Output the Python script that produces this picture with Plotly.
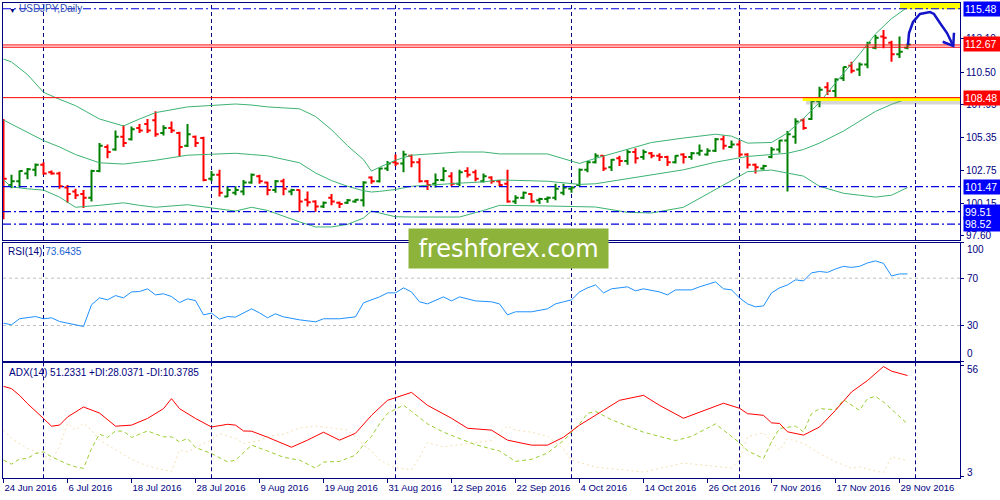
import pandas as pd
import plotly.graph_objects as go

# ---------------- data ----------------
dates = pd.bdate_range("2016-06-24", "2016-11-30")
bar = list(range(len(dates)))

opens = [106.2, 101.6, 101.9, 102.5, 102.8, 103.2, 102.6, 102.5, 101.4, 101.1,
         100.9, 100.6, 102.7, 104.6, 104.4, 105.4, 105.2, 106.1, 106.4, 106.7,
         105.7, 106.1, 105.7, 104.7, 105.4, 105.3, 102.1, 102.4, 100.7, 101.0,
         101.1, 101.8, 102.3, 101.8, 101.2, 101.9, 101.1, 101.2, 100.45, 100.3,
         99.9, 100.6, 100.2, 100.2, 100.3, 100.4, 102.2, 101.9, 102.9, 103.4,
         103.3, 103.9, 103.4, 101.9, 101.7, 102.0, 102.3, 101.7, 102.7, 102.6,
         101.9, 102.2, 101.9, 101.7, 100.3, 100.6, 100.9, 100.4, 100.5, 100.6,
         101.0, 101.3, 101.6, 102.8, 103.4, 103.9, 103.0, 103.7, 103.5, 104.2,
         103.8, 104.1, 103.9, 103.8, 103.4, 104.0, 103.8, 104.1, 104.0, 104.3,
         105.2, 104.6, 104.8, 104.0, 103.2, 102.9, 103.8, 104.4, 105.1, 105.4,
         106.7, 106.8, 108.2, 109.3, 109.0, 110.0, 111.0, 110.7, 111.1, 112.4,
         113.3, 112.8, 111.9, 112.4]
highs = [106.8, 102.4, 102.75, 102.95, 103.3, 103.4, 102.75, 102.65, 101.6, 101.3,
         101.2, 102.8, 104.9, 104.8, 105.9, 106.3, 106.2, 106.4, 106.8, 107.4,
         106.3, 106.6, 105.8, 106.4, 105.5, 105.4, 102.7, 102.8, 101.5, 101.5,
         102.0, 102.5, 102.4, 101.85, 102.0, 102.1, 101.3, 101.25, 101.1, 100.4,
         100.3, 100.9, 100.3, 100.5, 100.5, 101.9, 102.3, 102.95, 103.5, 104.0,
         104.3, 104.0, 103.7, 102.0, 102.5, 103.0, 102.6, 102.8, 103.0, 102.8,
         102.5, 102.3, 102.0, 102.8, 100.8, 101.1, 100.95, 100.6, 100.7, 101.7,
         101.7, 101.5, 102.9, 103.5, 104.1, 103.95, 103.65, 103.9, 104.4, 104.5,
         104.4, 104.2, 104.1, 103.9, 103.95, 104.1, 104.2, 104.8, 104.5, 105.3,
         105.5, 105.1, 105.1, 104.1, 103.3, 103.2, 104.6, 105.15, 105.85, 106.85,
         106.85, 108.37, 109.34, 109.69, 110.0, 110.92, 111.31, 111.24, 112.89, 113.41,
         113.81, 112.97, 113.3, 112.75]
lows = [98.9, 101.35, 101.4, 102.05, 102.3, 102.4, 102.4, 101.3, 100.2, 100.5,
        99.8, 100.3, 102.6, 103.7, 104.3, 104.6, 105.1, 105.7, 105.7, 105.4,
        105.5, 105.7, 103.8, 104.6, 104.6, 101.9, 101.9, 100.7, 100.65, 100.8,
        100.8, 101.7, 101.7, 100.8, 101.0, 100.8, 100.8, 99.5, 99.9, 99.5,
        99.8, 100.0, 99.8, 100.1, 100.2, 99.9, 101.7, 101.8, 102.7, 103.1,
        102.6, 103.0, 101.8, 101.2, 101.4, 101.9, 101.5, 101.5, 102.2, 101.9,
        101.8, 101.7, 101.5, 100.2, 100.1, 100.5, 100.2, 100.1, 100.2, 100.4,
        100.8, 101.0, 101.5, 102.6, 103.3, 102.7, 102.7, 103.1, 103.2, 103.3,
        103.6, 103.7, 103.5, 103.1, 103.3, 103.3, 103.6, 103.9, 103.9, 104.2,
        104.4, 104.5, 103.8, 102.9, 102.5, 102.8, 103.7, 104.15, 101.1, 104.85,
        105.95, 106.72, 107.72, 108.69, 108.43, 109.79, 110.4, 110.19, 110.79, 112.29,
        112.37, 111.31, 111.6, 112.3]
closes = [102.1, 101.9, 102.7, 102.85, 103.2, 102.5, 102.5, 101.5, 100.9, 100.8,
          100.6, 102.7, 104.7, 104.2, 105.4, 104.9, 106.0, 105.9, 105.9, 105.6,
          106.1, 105.9, 104.6, 105.6, 104.9, 102.0, 102.4, 101.0, 101.2, 101.2,
          101.8, 102.4, 101.9, 101.2, 101.9, 101.3, 101.2, 100.3, 100.25, 99.9,
          100.2, 100.3, 100.1, 100.4, 100.45, 101.8, 101.9, 102.9, 103.3, 103.3,
          104.0, 103.4, 101.9, 101.6, 102.0, 102.7, 101.7, 102.6, 102.4, 102.1,
          102.3, 101.9, 101.6, 100.3, 100.6, 101.0, 100.3, 100.5, 100.6, 101.3,
          101.4, 101.4, 102.8, 103.4, 103.9, 102.9, 103.6, 103.5, 104.2, 103.7,
          104.2, 103.9, 103.8, 103.4, 103.9, 103.8, 104.1, 104.3, 104.3, 105.2,
          104.7, 104.8, 104.0, 103.2, 103.0, 103.1, 104.4, 105.1, 105.6, 106.6,
          106.1, 108.2, 109.1, 109.0, 109.9, 110.9, 110.6, 111.1, 112.8, 113.2,
          113.2, 111.9, 112.1, 112.67]

# Bollinger bands (at these bars)
bb_idx = [0, 1, 3, 5, 7, 9, 12, 15, 17, 19, 23, 29, 31, 33, 37, 39, 41, 43, 45, 46,
          47, 49, 51, 54, 57, 60, 62, 68, 72, 74, 78, 81, 85, 89, 91, 93, 96, 98, 100, 102,
          105, 107, 109, 111, 113]
bb_upper = [111.52, 111.29, 110.3, 108.9, 108.35, 107.85, 106.8, 106.25, 106.8, 107.3,
            107.75, 107.98, 107.9, 107.75, 107.6, 107.0, 105.95, 104.7, 103.6, 102.7,
            103.0, 103.55, 103.95, 104.05, 104.2, 104.2, 104.05, 104.05, 103.3, 103.7,
            104.4, 104.95, 105.3, 105.6, 105.45, 104.9, 104.95, 105.7, 106.85, 108.1,
            110.4, 111.9, 113.5, 114.7, 115.6]
bb_mid = [106.72, 106.4, 105.7, 105.1, 104.6, 104.0, 103.35, 103.25, 103.4, 103.55,
          103.95, 104.1, 104.0, 103.9, 103.35, 102.55, 101.95, 101.5, 101.15, 101.05,
          101.1, 101.25, 101.5, 101.65, 101.75, 101.85, 102.0, 101.9, 101.65, 101.7,
          102.1, 102.35, 102.8, 103.4, 103.65, 103.85, 104.0, 104.1, 104.4, 104.9,
          105.85, 106.6, 107.4, 107.95, 108.4]
bb_lower = [102.0, 101.45, 101.3, 101.2, 100.65, 99.85, 100.0, 100.2, 100.0, 99.85,
            100.05, 99.55, 99.85, 99.6, 98.7, 98.3, 98.3, 98.5, 99.0, 99.55,
            99.4, 99.1, 99.08, 99.08, 99.08, 99.6, 100.0, 99.95, 99.9, 99.87,
            99.45, 99.4, 99.85, 101.25, 102.0, 102.65, 102.78, 102.55, 102.3, 101.5,
            100.95, 100.8, 100.65, 100.8, 101.4]

rsi_idx = [0, 1, 2, 4, 5, 6, 7, 9, 10,
           11, 12, 13, 14, 15, 16, 17, 18, 19, 20, 21, 22, 23, 24, 25, 26, 27, 28, 29,
           31, 32, 33, 34, 35,
           37, 39, 40, 42, 44, 45,
           47, 48, 49, 50, 51, 52, 53,
           55, 56, 57, 59, 61, 62, 63, 64, 66,
           68, 69, 70, 71, 72, 73, 74, 75, 76,
           78, 79, 80, 82, 83, 84, 86, 87, 89, 90, 91,
           92, 93, 94, 95, 96, 97, 98, 99, 100, 101, 102, 103, 104, 105, 106, 107, 108,
           109, 110, 111, 112, 113]
rsi_val = [32.0, 30.6, 35.7, 37.6, 35.7, 36.5, 33.4, 30.6, 29.2,
           47.5, 53.4, 51.7, 55.3, 53.4, 58.4, 58.7, 61.0, 55.9, 56.8, 54.5, 49.4, 52.5,
           51.1, 39.0, 40.5, 35.4, 37.6, 37.1,
           44.1, 40.7, 36.5, 39.9, 37.3,
           34.8, 33.1, 35.7, 35.7, 37.3, 49.2,
           54.2, 57.6, 57.6, 61.8, 58.4, 50.0, 48.3,
           54.2, 50.8, 54.2, 50.8, 50.0, 48.3, 39.0, 41.6, 41.6,
           44.1, 48.3, 50.0, 51.7, 58.4, 61.8, 64.3, 57.6, 61.0,
           62.7, 59.3, 61.0, 58.4, 55.9, 60.1, 60.1, 62.7, 66.9, 61.0, 60.1,
           53.4, 48.3, 45.8, 46.6, 57.6, 61.8, 64.3, 68.6, 67.7, 74.5, 75.7, 74.9, 77.8,
           80.0, 79.1, 80.0, 82.9, 84.6, 82.5, 71.9, 73.6, 73.6]

adx_idx = [0, 1, 2, 3, 5, 6, 7, 8, 10, 12, 14, 16, 18, 20, 21, 22, 24, 26, 28, 29,
           30, 31, 33, 36, 38, 40, 42, 44, 46, 48, 51, 53, 56, 58, 61, 63, 66, 68, 70, 72,
           75, 77, 80, 82, 85, 87, 90, 92, 93, 95, 96, 97, 98, 100, 102, 104, 106, 108, 110,
           111, 113]
adx_val = [46.0, 44.9, 41.7, 37.7, 30.6, 26.9, 27.4, 31.3, 36.1, 33.2, 26.9, 27.4, 30.6,
           35.3, 40.1, 35.3, 30.6, 26.5, 27.8, 27.4, 24.6, 24.5, 21.6, 16.8, 20.2, 24.0,
           20.2, 23.5, 32.1, 39.3, 43.1, 36.9, 30.7, 25.9, 25.0, 20.2, 17.8, 17.8, 21.6,
           27.4, 34.5, 39.3, 41.7, 36.9, 30.7, 33.6, 37.9, 35.5, 32.9, 32.1, 28.5, 28.2,
           24.2, 22.6, 26.5, 34.5, 43.3, 48.8, 55.5, 53.3, 51.2]
pdi_idx = [0, 1, 2, 3, 4, 5, 6, 7, 8, 9, 10, 11, 12, 13, 14, 15, 16, 18, 20, 21, 22, 23,
           24, 26, 28, 29, 31, 33, 35, 37, 39, 40, 42, 44, 45, 46, 47, 48, 50, 51, 53, 55,
           57, 59, 62, 64, 66, 68, 70, 72, 73, 74, 76, 78, 80, 82, 84, 86, 88, 89, 90, 92,
           93, 95, 96, 97, 99, 100, 101, 102, 104, 105, 107, 108, 109, 110, 111, 112, 113]
pdi_val = [10.6, 8.7, 11.1, 11.4, 13.8, 14.6, 12.2, 10.3, 8.7, 7.4, 6.7, 16.2, 23.1, 21.5,
           24.6, 24.5, 21.5, 24.6, 21.8, 21.8, 19.4, 21.0, 16.7, 13.8, 9.8, 10.6, 17.8, 15.0,
           12.0, 10.6, 6.8, 9.7, 10.0, 13.0, 18.0, 22.0, 28.0, 33.0, 37.0, 34.0, 28.0, 24.0,
           21.0, 18.0, 15.0, 10.0, 11.0, 14.0, 20.0, 28.0, 33.0, 34.0, 30.0, 27.0, 24.0,
           22.0, 20.0, 22.0, 26.0, 28.0, 25.0, 19.0, 15.1, 11.4, 19.4, 25.8, 26.9, 24.2,
           32.9, 35.3, 34.8, 39.6, 34.5, 40.1, 41.2, 38.5, 35.0, 31.5, 28.0]
mdi_idx = [0, 1, 3, 5, 6, 7, 8, 9, 10, 11, 12, 14, 16, 18, 21, 22, 23, 25, 26, 27, 29,
           30, 32, 33, 35, 37, 39, 41, 43, 45, 46, 47, 49, 51, 52, 53, 55, 57, 59, 61, 63,
           64, 66, 68, 70, 71, 74, 77, 80, 85, 88, 91, 92, 93, 95, 96, 97, 98, 100, 102,
           104, 106, 107, 109, 110, 111, 113]
mdi_val = [25.0, 21.0, 16.2, 13.0, 10.6, 17.0, 28.2, 25.0, 28.2, 25.0, 20.2, 15.4, 11.0,
           7.8, 5.1, 15.4, 14.6, 18.6, 20.2, 23.4, 21.0, 18.6, 20.0, 22.0, 23.0, 26.0,
           27.0, 26.0, 25.0, 18.0, 15.0, 10.6, 7.0, 6.0, 12.0, 19.0, 17.0, 18.0, 19.0,
           20.0, 27.0, 25.0, 24.0, 22.0, 16.0, 10.6, 7.3, 6.0, 4.9, 9.2, 8.0, 6.8, 10.6,
           21.8, 23.7, 19.4, 15.4, 21.0, 18.6, 13.8, 9.8, 6.7, 7.4, 5.4, 4.6, 12.2, 10.4]

price_ticks = [113.10, 110.50, 107.95, 105.35, 102.75, 100.15, 97.60]
blue_levels = [115.48, 101.47, 99.51, 98.52]
label_ticks = list(range(0, len(dates), 8))
label_text = [f"{dates[i].day} {dates[i].strftime('%b %Y')}" for i in label_ticks]
month_starts = [5, 26, 49, 71, 92, 114]

# ---------------- styling ----------------
NAVY = "#000080"
FONT = "Liberation Sans"
W, H = 1000, 500


def py(px):
    return (H - px) / H


X_RANGE = [-0.0625, 119.5625]
MAIN_DOM = [py(240), py(3)]
RSI_DOM = [py(361), py(242.7)]
ADX_DOM = [py(478.3), py(363)]
MAIN_RANGE = [110.5 - 168 / 12.7, 110.5 + 69 / 12.7]
ADX_RANGE = [1.9, 57.2]

fig = go.Figure()

fig.add_trace(go.Ohlc(
    x=bar, open=opens, high=highs, low=lows, close=closes,
    increasing=dict(line=dict(color="#008000", width=2)),
    decreasing=dict(line=dict(color="#ff0000", width=2)),
    tickwidth=0.4, xaxis="x", yaxis="y", hoverinfo="skip", showlegend=False))

for band in (bb_upper, bb_mid, bb_lower):
    fig.add_trace(go.Scatter(x=bb_idx, y=band, mode="lines",
                             line=dict(color="#3cb371", width=1),
                             xaxis="x", yaxis="y", hoverinfo="skip", showlegend=False))

fig.add_trace(go.Scatter(x=rsi_idx, y=rsi_val, mode="lines",
                         line=dict(color="#1e90ff", width=1),
                         xaxis="x2", yaxis="y2", hoverinfo="skip", showlegend=False))

fig.add_trace(go.Scatter(x=mdi_idx, y=mdi_val, mode="lines",
                         line=dict(color="#f5deb3", width=1, dash="2px,3px"),
                         xaxis="x3", yaxis="y3", hoverinfo="skip", showlegend=False))
fig.add_trace(go.Scatter(x=pdi_idx, y=pdi_val, mode="lines",
                         line=dict(color="#9acd32", width=1, dash="4px,3px"),
                         xaxis="x3", yaxis="y3", hoverinfo="skip", showlegend=False))
fig.add_trace(go.Scatter(x=adx_idx, y=adx_val, mode="lines",
                         line=dict(color="#ff0000", width=1),
                         xaxis="x3", yaxis="y3", hoverinfo="skip", showlegend=False))

shapes = []
# month separators
for yr, xr in (("y domain", "x"), ("y2 domain", "x2"), ("y3 domain", "x3")):
    for m in month_starts:
        shapes.append(dict(type="line", xref=xr, yref=yr, x0=m, x1=m, y0=0, y1=1,
                           line=dict(color=NAVY, width=1, dash="4px,3px"), layer="below"))
# RSI levels
for lv in (70, 30):
    shapes.append(dict(type="line", xref="x2 domain", yref="y2", x0=0, x1=1, y0=lv, y1=lv,
                       line=dict(color="#c0c0c0", width=1, dash="3px,3px"), layer="below"))

# analyst drawings (yellow highlights, shadow)
shapes.append(dict(type="rect", xref="x", yref="y", x0=100.3, x1=119.6, y0=107.94, y1=108.22,
                   fillcolor="rgba(120,120,120,0.30)", line=dict(width=0)))
shapes.append(dict(type="rect", xref="x", yref="y", x0=99.9, x1=119.6, y0=108.22, y1=108.51,
                   fillcolor="#ffff00", line=dict(width=0)))
shapes.append(dict(type="rect", xref="x", yref="y", x0=112.06, x1=119.6, y0=115.44, y1=115.93,
                   fillcolor="#ffff00", line=dict(width=0)))

for lv in blue_levels:
    shapes.append(dict(type="line", xref="x domain", yref="y", x0=0, x1=1, y0=lv, y1=lv,
                       line=dict(color="#0000e0", width=1.2, dash="8px,3px,2px,3px")))
for lv in (112.63, 112.45, 108.48):
    shapes.append(dict(type="line", xref="x domain", yref="y", x0=0, x1=1, y0=lv, y1=lv,
                       line=dict(color="#ff0000", width=1)))

# hand-drawn arrow
arrow_pts = [(113.06, 112.63), (113.19, 113.57), (113.69, 114.44), (114.56, 115.07),
             (115.81, 115.22), (116.31, 115.07), (117.06, 114.36), (117.94, 113.57),
             (118.72, 112.55)]
path = "M " + " L ".join(f"{a},{b}" for a, b in arrow_pts)
shapes.append(dict(type="path", xref="x", yref="y", path=path,
                   line=dict(color="#1414c8", width=2.5)))
shapes.append(dict(type="path", xref="x", yref="y",
                   path="M 117.4,112.88 L 118.72,112.55 L 118.81,113.59",
                   line=dict(color="#1414c8", width=2.5)))

annotations = []


def ann(text, x, y, color=NAVY, size=10, xanchor="left", yanchor="middle", yref="paper", **kw):
    annotations.append(dict(text=text, x=x, y=y, xref="paper", yref=yref, showarrow=False,
                            xanchor=xanchor, yanchor=yanchor,
                            font=dict(family=FONT, size=size, color=color), **kw))


ann("▼", 0.0065, py(10), color=NAVY, size=7)
ann("USDJPY,Daily", 0.017, py(8.5), color="#3050b0", size=10)
ann("RSI(14) <span style='color:#2060d0'>73.6435</span>", 0.006, py(251), size=10)
ann("ADX(14) 51.2331 +DI:28.0371 -DI:10.3785", 0.007, py(372), size=10)

# price level boxes on the right axis
for txt, lv, bg in [("115.48", 115.48, "#0000ff"), ("112.67", 112.67, "#ff0000"),
                    ("108.48", 108.48, "#ff0000"), ("101.47", 101.47, "#0000ff"),
                    ("99.51", 99.51, "#0000ff"), ("98.52", 98.52, "#0000ff")]:
    annotations.append(dict(text=txt, x=0.9625, y=lv, xref="paper", yref="y", showarrow=False,
                            xanchor="left", yanchor="middle", bgcolor=bg, borderpad=1,
                            width=34, align="left",
                            font=dict(family=FONT, size=10.5, color="white")))

# indicator scale labels
for txt, px in [("100", 249), ("70", 278.3), ("30", 325.7), ("0", 353.3),
                ("56", 369.5), ("3", 472)]:
    ann(txt, 0.9645, py(px), size=10)

# watermark
annotations.append(dict(text="freshforex.com", x=508.5 / W, y=py(248.5), xref="paper",
                        yref="paper", showarrow=False, xanchor="center", yanchor="middle",
                        width=197, height=37, bgcolor="#8db33a",
                        font=dict(family="DejaVu Sans", size=24, color="white")))

axis_common = dict(showline=True, mirror=True, linecolor=NAVY, linewidth=1,
                   showgrid=False, zeroline=False, fixedrange=True)

fig.update_layout(
    width=W, height=H, margin=dict(l=0, r=0, t=0, b=0),
    paper_bgcolor="white", plot_bgcolor="white", showlegend=False,
    xaxis=dict(domain=[0.003, 0.960], range=X_RANGE, anchor="y", showticklabels=False,
               ticks="", rangeslider=dict(visible=False), **axis_common),
    yaxis=dict(domain=MAIN_DOM, range=MAIN_RANGE, side="right", anchor="x",
               tickvals=price_ticks, ticktext=[f"{v:.2f}" for v in price_ticks],
               ticks="outside", ticklen=3, tickcolor=NAVY,
               tickfont=dict(family=FONT, size=10, color=NAVY), **axis_common),
    xaxis2=dict(domain=[0.003, 0.960], range=X_RANGE, anchor="y2", showticklabels=False,
                ticks="", matches="x", **axis_common),
    yaxis2=dict(domain=RSI_DOM, range=[0, 100], side="right", anchor="x2",
                tickvals=[100, 70, 30, 0], showticklabels=False, ticks="outside", ticklen=3,
                tickcolor=NAVY, **axis_common),
    xaxis3=dict(domain=[0.003, 0.960], range=X_RANGE, anchor="y3", matches="x",
                tickvals=label_ticks, ticktext=label_text, ticks="outside", ticklen=4,
                tickcolor=NAVY, ticklabelposition="outside right",
                tickfont=dict(family=FONT, size=9.5, color=NAVY), **axis_common),
    yaxis3=dict(domain=ADX_DOM, range=ADX_RANGE, side="right", anchor="x3",
                tickvals=[56, 3], showticklabels=False, ticks="outside", ticklen=3,
                tickcolor=NAVY, **axis_common),
    shapes=shapes, annotations=annotations,
)

fig.write_html("out.html", config={"displayModeBar": False, "staticPlot": True},
               post_script="document.body.style.margin='0';document.body.style.overflow='hidden';")
